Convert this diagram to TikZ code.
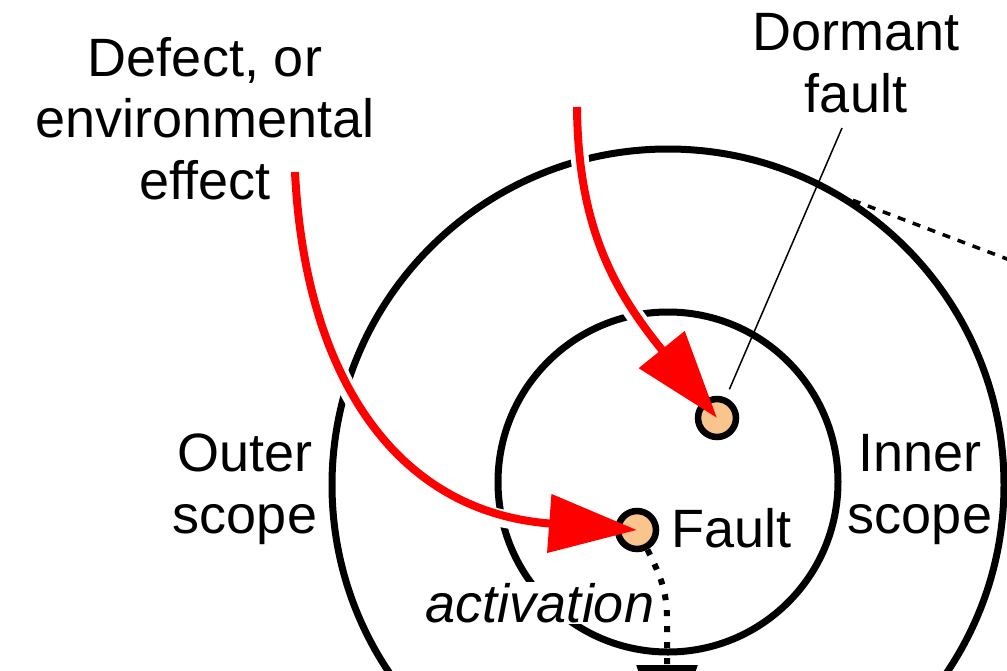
\documentclass[tikz,border=0pt]{standalone}
\usepackage{fontspec}
\setmainfont{Liberation Sans}
\usetikzlibrary{arrows.meta}
\definecolor{peach}{RGB}{250,196,142}
\begin{document}
\begin{tikzpicture}[x=1pt,y=-1pt,
  scopering/.style={circle,draw=black,line width=7pt,inner sep=0pt},
  faultdot/.style={circle,draw=black,fill=peach,line width=6.5pt,minimum size=38pt,inner sep=0pt},
  lbl/.style={font=\fontsize{54}{61.5}\selectfont,inner sep=0pt,align=center,anchor=base},
  halo/.style={draw=white,line width=18pt,shorten >=110pt},
  redarrow/.style={draw=red,line width=8pt,-{Triangle[length=88pt,width=57pt]}},
  thinline/.style={draw=black,line width=1.5pt},
  dashline/.style={draw=black,line width=3.5pt,dash pattern=on 8pt off 8pt},
  dotline/.style={draw=black,line width=6pt,dash pattern=on 6pt off 10pt,-{Triangle[length=88pt,width=60pt]}},
  ]
\useasboundingbox (0,0) rectangle (1007,670);
\clip (0,0) rectangle (1007,670);

% positions and free ends
\coordinate (faultpos) at (637,530);
\coordinate (dormpos) at (717,418);
\coordinate (src1) at (295,172);
\coordinate (src2) at (577,107);
\coordinate (dfl) at (842,128);
\coordinate (dashend) at (1120,302);
\coordinate (errtop) at (667,753);

% scopes
\node[scopering,minimum size=672pt] (outer) at (668,485) {};
\node[scopering,minimum size=340pt] (inner) at (668,482) {};
\draw[dashline] (outer.57) -- (dashend);

% white halos under the red arrows
\draw[halo] (src1) .. controls (305,375) and (395,512) .. (faultpos);
\draw[halo] (src2) .. controls (578,230) and (616,293) .. (dormpos);

% small fault circles
\node[faultdot] (dormant) at (dormpos) {};
\node[faultdot] (fault) at (faultpos) {};

% labels
\node[lbl] (defect) at (205,199) {Defect, or\\environmental\\effect};
\node[lbl] (dflabel) at (856,112) {Dormant\\fault};
\node[lbl] (outerlbl) at (245,533) {Outer\\scope};
\node[lbl] (innerlbl) at (920,533) {Inner\\scope};
\node[lbl,anchor=base west] (faultlbl) at (671,547) {Fault};
\node[lbl,font=\fontsize{54}{61.5}\selectfont\itshape,fill=white,inner sep=1pt] (act) at (540,622) {activation};

% connectors
\draw[redarrow] (src1) .. controls (305,375) and (395,512) .. (fault.center);
\draw[redarrow] (src2) .. controls (578,230) and (616,293) .. (dormant.center);
\draw[thinline,shorten <=9pt] (dormant) -- (dfl);
\draw[dotline] (fault.-62) .. controls (660,575) and (667,590) .. (667,620) -- (errtop);
\end{tikzpicture}
\end{document}
